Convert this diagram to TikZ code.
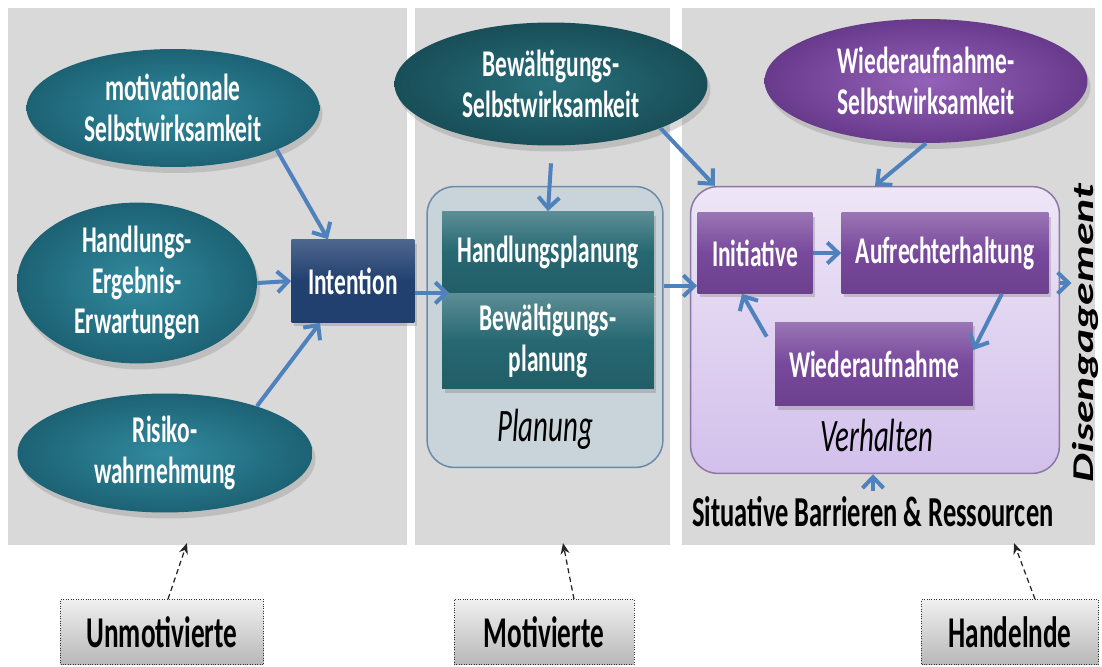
\documentclass[tikz,border=0pt]{standalone}
\usepackage{fontspec}
\setmainfont{Carlito}[FakeStretch=0.62]
\newfontfamily\widefont{Carlito}
\usepackage{graphicx}
\usepackage{tikz}
\usetikzlibrary{arrows.meta,shapes.geometric,shadows}

\definecolor{panelgray}{RGB}{217,217,217}
\definecolor{tealin}{RGB}{50,138,158}
\definecolor{tealout}{RGB}{28,98,116}
\definecolor{tealdarkin}{RGB}{40,112,122}
\definecolor{tealdarkout}{RGB}{24,78,88}
\definecolor{intentnavy}{RGB}{33,64,112}
\definecolor{planteal}{RGB}{38,104,114}
\definecolor{planfill}{RGB}{200,212,217}
\definecolor{planedge}{RGB}{105,140,170}
\definecolor{purplein}{RGB}{148,98,184}
\definecolor{purpleout}{RGB}{104,58,140}
\definecolor{purplebox}{RGB}{120,72,156}
\definecolor{lilactop}{RGB}{238,230,247}
\definecolor{lilacbot}{RGB}{210,192,235}
\definecolor{lilacedge}{RGB}{140,120,165}
\definecolor{flowblue}{RGB}{79,129,189}

\newcommand{\diagfont}{\bfseries\fontsize{21.5}{23}\selectfont}
\newcommand{\phasefont}{\itshape\fontsize{26.5}{30}\selectfont}
\newcommand{\stagefont}{\bfseries\fontsize{25}{28}\selectfont}

\tikzset{
	panel/.style={fill=panelgray, draw=none},
	oval/.style={ellipse, inner sep=0pt, align=center, text=white, font=\diagfont,
		drop shadow={opacity=0.3, shadow xshift=0.6mm, shadow yshift=-1.2mm}},
	tealoval/.style={oval, inner color=tealin, outer color=tealout},
	darkoval/.style={oval, inner color=tealdarkin, outer color=tealdarkout},
	purpleoval/.style={oval, inner color=purplein, outer color=purpleout},
	stepbox/.style={rectangle, inner sep=0pt, align=center, text=white, font=\diagfont,
		drop shadow={opacity=0.35, shadow xshift=0.5mm, shadow yshift=-0.8mm}},
	navybox/.style={stepbox, top color=intentnavy!80!white, bottom color=intentnavy, middle color=intentnavy},
	tealbox/.style={stepbox, top color=planteal!75!white, bottom color=planteal!90!black, middle color=planteal},
	purplebox/.style={stepbox, top color=purplebox!75!white, bottom color=purplebox!90!black, middle color=purplebox},
	phase/.style={rectangle, rounded corners=5.5mm, inner sep=0pt, line width=0.3mm},
	stagebox/.style={rectangle, inner sep=0pt, font=\stagefont, draw=black!80, densely dotted,
		top color=black!6, bottom color=black!28},
	flow/.style={line width=0.8mm, color=flowblue, -{Straight Barb[length=2.2mm, width=4.2mm]}},
	pointer/.style={line width=0.25mm, densely dashed, color=black!85, -{Stealth[length=2.2mm, width=1.8mm]}}
}

\begin{document}
\begin{tikzpicture}[x=0.02cm, y=-0.02cm]
			%%%%% START %%%%%
			\useasboundingbox (0, 0) rectangle (1102, 666);
			
			\draw[panel] (8, 8) rectangle (407, 545);
			\draw[panel] (415, 8) rectangle (670, 545);
			\draw[panel] (682, 8) rectangle (1095, 545);
			
			\node[phase, draw=planedge, fill=planfill, minimum width=4.72cm, minimum height=5.62cm] (planung) at (545, 327) {};
			\node[phase, draw=lilacedge, top color=lilactop, bottom color=lilacbot, minimum width=7.38cm, minimum height=5.74cm] (verhalten) at (875, 330) {};
			
			\node[tealoval, minimum width=5.86cm, minimum height=2.36cm] (motiv) at (173, 108) {motivationale\\Selbstwirksamkeit};
			\node[tealoval, minimum width=4.8cm, minimum height=3.04cm] (handlung) at (137, 283) {Handlungs-\\Ergebnis-\\Erwartungen};
			\node[tealoval, minimum width=5.9cm, minimum height=2.38cm] (risiko) at (165, 453) {Risiko-\\wahrnehmung};
			\node[navybox, minimum width=2.46cm, minimum height=1.66cm] (intention) at (353, 281) {Intention};
			
			\node[darkoval, minimum width=6.26cm, minimum height=2.46cm] (bew) at (551, 84) {Bewältigungs-\\Selbstwirksamkeit};
			\node[tealbox, minimum width=4.24cm, minimum height=1.62cm] (hplan) at (548, 252) {Handlungsplanung};
			\node[tealbox, minimum width=4.24cm, minimum height=1.92cm] (bplan) at (548, 341) {Bewältigungs-\\planung};
			\node[font=\phasefont] (planlabel) at (545, 429) {Planung};
			
			\node[purpleoval, minimum width=6.46cm, minimum height=2.48cm] (wsw) at (926, 81) {Wiederaufnahme-\\Selbstwirksamkeit};
			\node[purplebox, minimum width=2.3cm, minimum height=1.62cm] (initiative) at (755, 253) {Initiative};
			\node[purplebox, minimum width=4.14cm, minimum height=1.62cm] (aufrecht) at (945, 253) {Aufrechterhaltung};
			\node[purplebox, minimum width=3.96cm, minimum height=1.68cm] (wieder) at (874, 364) {Wiederaufnahme};
			\node[font=\phasefont] (verhlabel) at (877, 436) {Verhalten};
			\node[font=\bfseries\fontsize{24.3}{27}\selectfont] (situative) at (873, 512) {Situative Barrieren \& Ressourcen};
			\node[rotate=90, anchor=base, inner sep=0pt] (disengage) at (1093, 333) {\scalebox{1}[0.66]{\widefont\bfseries\itshape\fontsize{26}{30}\selectfont Disengagement}};
			
			\node[stagebox, minimum width=4.06cm, minimum height=1.3cm] (unmot) at (162, 632) {Unmotivierte};
			\node[stagebox, minimum width=3.6cm, minimum height=1.3cm] (mot) at (544, 632) {Motivierte};
			\node[stagebox, minimum width=3.54cm, minimum height=1.3cm] (handelnde) at (1010, 632) {Handelnde};
			
			%% arrows
			\draw[flow] (motiv.south east) -- ([xshift=-5mm]intention.north);
			\draw[flow] (handlung.east) -- (intention.west);
			\draw[flow] (risiko.27) -- ([xshift=-6.6mm]intention.south);
			\draw[flow] (intention.east |- hplan.south west) -- ([xshift=1.5mm]hplan.south west);
			\draw[flow] ([yshift=-3.5mm]bew.south) -- (hplan.north);
			\draw[flow] (bew.-22) -- ([xshift=5mm]verhalten.north west);
			\draw[flow] (wsw.south) -- (verhalten.north);
			
			\coordinate (initin) at ([yshift=1.6mm]initiative.south west);
			\draw[flow] (planung.east |- initin) -- (initin);
			\draw[flow] (initiative.east) -- (aufrecht.west);
			\draw[flow] ([xshift=-9.4mm]aufrecht.south east) -- ([yshift=2.8mm]wieder.east);
			\draw[flow] ([shift={(-1.6mm,-3mm)}]wieder.north west) -- ([xshift=-2.6mm]initiative.south);
			\coordinate (disout) at ([yshift=9.4mm]verhalten.east);
			\draw[flow] (disout) -- (disout -| disengage.north);
			\draw[flow] (situative.north) -- (situative.north |- verhalten.south);
			
			\coordinate (tipU) at (187, 543);
			\coordinate (tipM) at (563, 543);
			\coordinate (tipH) at (1014, 543);
			\draw[pointer] ([xshift=1.2mm]unmot.north) -- (tipU);
			\draw[pointer] ([xshift=6mm]mot.north) -- (tipM);
			\draw[pointer] ([xshift=5mm]handelnde.north) -- (tipH);
			
			%%%%% END %%%%%
\end{tikzpicture}
\end{document}
